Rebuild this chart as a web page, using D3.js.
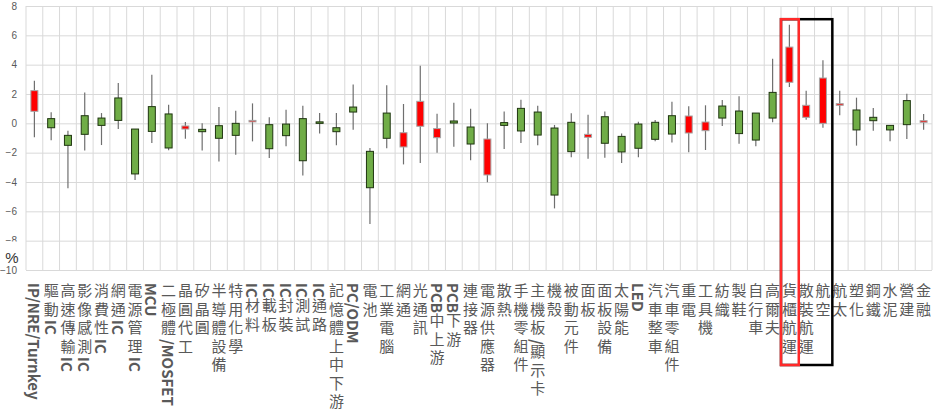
<!DOCTYPE html>
<html>
<head>
<meta charset="utf-8">
<script src="https://cdn.jsdelivr.net/npm/d3@7"></script>
<style>
  html, body { margin: 0; padding: 0; background: #fff; }
  svg { display: block; }
</style>
</head>
<body>
<svg id="chart" width="936" height="416"></svg>
<script>
// ---------- data ----------
const categories = ["IP/NRE/Turnkey","驅動IC","高速傳輸IC","影像感測IC","消費性IC","網通IC","電源管理IC","MCU","二極體/MOSFET","晶圓代工","矽晶圓","半導體設備","特用化學","IC材料","IC載板","IC封裝","IC測試","IC通路","記憶體上中下游","PC/ODM","電池","工業電腦","網通","光通訊","PCB中上游","PCB下游","連接器","電源供應器","散熱","手機零組件","主機板/顯示卡","機殼","被動元件","面板","面板設備","太陽能","LED","汽車整車","汽車零組件","重電","工具機","紡織","製鞋","自行車","高爾夫","貨櫃航運","散裝航運","航空","航太","塑化","鋼鐵","水泥","營建","金融"];
const openVals  = [0.82,0.32,-0.82,0.52,0.36,1.73,-0.39,1.14,0.64,-0.39,-0.41,-0.16,0.00,0.11,-0.09,-0.05,0.32,0.10,-0.30,1.11,-1.91,0.70,-1.61,-0.20,-0.98,0.16,-0.25,-3.52,0.05,1.02,0.77,-0.32,0.07,-0.95,0.45,-0.89,-0.05,0.07,0.52,-0.66,-0.50,1.18,0.84,0.70,2.11,2.80,0.41,0.00,1.23,0.91,0.41,-0.14,1.55,0.07];
const closeVals = [2.23,-0.30,-1.50,-0.75,-0.14,0.20,-3.45,-0.55,-1.68,-0.18,-0.57,-1.02,-0.82,0.20,-1.73,-0.84,-2.55,0.05,-0.57,0.77,-4.39,-1.02,-0.64,1.50,-0.36,0.02,-1.41,-1.07,-0.14,-0.52,-0.80,-4.89,-1.93,-0.75,-1.36,-1.95,-1.70,-1.09,-0.73,0.50,0.09,0.36,-0.70,-1.14,0.36,5.20,1.23,3.09,1.34,-0.45,0.18,-0.45,-0.09,0.18];
const highVals  = [2.90,0.75,-0.50,2.11,0.70,2.75,-0.39,3.32,1.27,0.09,0.00,1.11,0.86,1.36,0.41,0.93,1.20,0.70,0.70,2.64,-1.68,2.59,1.32,3.93,0.66,1.41,1.00,0.00,0.80,1.61,1.20,-0.11,0.68,0.59,0.80,-0.70,0.11,0.23,1.48,1.16,1.23,1.59,1.84,0.70,4.41,6.73,2.23,4.30,2.23,1.75,1.05,-0.14,2.02,0.64];
const lowVals   = [-0.95,-1.16,-4.43,-1.86,-1.48,-0.39,-3.86,-1.34,-1.84,-1.05,-1.86,-2.61,-2.14,-1.23,-2.36,-1.57,-3.55,-0.70,-1.50,-0.43,-6.86,-1.70,-2.80,-2.70,-2.00,-1.59,-2.52,-4.02,-1.75,-1.34,-1.50,-5.80,-2.32,-2.41,-2.34,-2.70,-2.32,-1.23,-1.30,-1.98,-1.82,-0.18,-1.39,-1.57,0.07,2.48,0.25,-0.30,0.55,-1.52,-0.50,-1.23,-1.07,-0.43];
const yTicks = [8,6,4,2,0,-2,-4,-6,-8,-10];
const unitLabel = "%";
const redGroup = ["貨櫃航運"];
const blackGroup = ["貨櫃航運","散裝航運","航空"];

// ---------- layout ----------
const W = 936, H = 416;
const plot = {left: 26, right: 932, top: 6, bottom: 270};
const svg = d3.select("#chart");
svg.append("rect").attr("width", W).attr("height", H).attr("fill", "#fff");

const x = d3.scaleBand().domain(categories).range([plot.left, plot.right]).paddingInner(0).paddingOuter(0);
const y = d3.scaleLinear().domain([-10, 8]).range([plot.bottom, plot.top]);

// horizontal gridlines + tick labels
const yAxis = d3.axisLeft(y).tickValues(yTicks).tickSize(-(plot.right - plot.left)).tickPadding(9).tickFormat(d3.format("d"));
const gy = svg.append("g").attr("transform", `translate(${plot.left},0)`).call(yAxis);
gy.select(".domain").remove();
gy.selectAll(".tick line").attr("stroke", "#d9d9d9").attr("stroke-width", 1);
gy.selectAll(".tick text").attr("fill", "#595959").style("font-family", "'Liberation Sans', Arial, sans-serif").style("font-size", "10px");

// vertical gridlines at category boundaries
const bounds = categories.map(c => x(c)).concat([plot.right]);
svg.append("g").selectAll("line").data(bounds).join("line")
  .attr("x1", d => d).attr("x2", d => d)
  .attr("y1", plot.top).attr("y2", plot.bottom)
  .attr("stroke", "#d9d9d9").attr("stroke-width", 1);

// unit label (sits over the lower part of the -8 tick label)
svg.append("rect").attr("x", 0).attr("y", 241.5).attr("width", 24).attr("height", 22).attr("fill", "#fff");
svg.append("text").attr("x", 12).attr("y", 262.5).attr("text-anchor", "middle")
  .attr("fill", "#333").style("font-family", "'Liberation Sans', Arial, sans-serif").style("font-size", "15px").text(unitLabel);

// candles
const data = categories.map((c, i) => ({c, o: openVals[i], cl: closeVals[i], h: highVals[i], l: lowVals[i]}));
const bodyW = 7;
const cg = svg.append("g");
cg.selectAll("line.wick").data(data).join("line").attr("class", "wick")
  .attr("x1", d => x(d.c) + x.bandwidth() / 2).attr("x2", d => x(d.c) + x.bandwidth() / 2)
  .attr("y1", d => y(d.h)).attr("y2", d => y(d.l))
  .attr("stroke", "#6f6f6f").attr("stroke-width", 1.2);
cg.selectAll("rect.body").data(data).join("rect").attr("class", "body")
  .attr("x", d => x(d.c) + x.bandwidth() / 2 - bodyW / 2)
  .attr("width", bodyW)
  .attr("y", d => y(Math.max(d.o, d.cl)))
  .attr("height", d => Math.max(1.5, Math.abs(y(d.o) - y(d.cl))))
  .attr("fill", d => d.cl > d.o ? "#ff0000" : "#70ad47")
  .attr("stroke", d => d.cl > d.o ? "#a6a6a6" : "#1f3510")
  .attr("stroke-width", 1);

// category labels (vertical)
const lg = svg.append("g");
categories.forEach(c => {
  const t = lg.append("text")
    .attr("x", x(c) + x.bandwidth() / 2)
    .attr("y", 283)
    .style("writing-mode", "vertical-rl")
    .style("font-family", "'Noto Sans CJK TC', 'Noto Sans', sans-serif")
    .style("font-size", "15px")
    .attr("fill", "#595959");
  const runs = c.match(/[\x00-\x7F]+|[^\x00-\x7F]+/g);
  runs.forEach(r => {
    const ascii = /^[\x00-\x7F]+$/.test(r);
    t.append("tspan").text(r)
      .style("font-weight", ascii ? "bold" : "normal")
      .style("letter-spacing", ascii ? "0px" : "3.5px");
  });
});

// highlight boxes
const hlTop = y(7.1), hlBottom = 365;
const bx0 = x(blackGroup[0]), bx1 = x(blackGroup[blackGroup.length - 1]) + x.bandwidth();
svg.append("rect").attr("x", bx0).attr("y", hlTop).attr("width", bx1 - bx0 + 1).attr("height", hlBottom - hlTop)
  .attr("fill", "none").attr("stroke", "#000").attr("stroke-width", 2.5);
const rx0 = x(redGroup[0]);
svg.append("rect").attr("x", rx0).attr("y", hlTop).attr("width", x.bandwidth() + 1).attr("height", hlBottom - hlTop)
  .attr("fill", "none").attr("stroke", "#ff2a2a").attr("stroke-width", 2.5);
</script>
</body>
</html>
